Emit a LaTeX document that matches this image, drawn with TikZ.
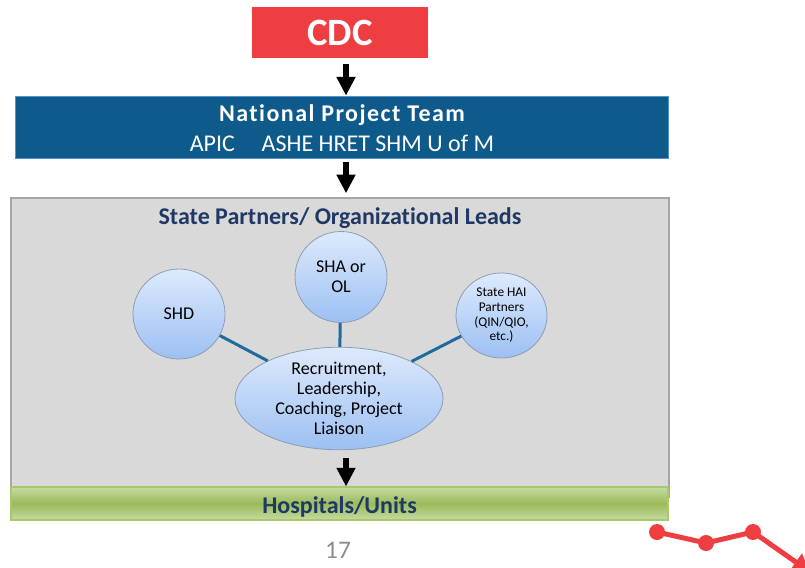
\documentclass[tikz,border=0pt]{standalone}
\usepackage{fontspec}
\setmainfont[Ligatures=NoCommon]{Carlito}
\usetikzlibrary{arrows.meta,shapes.geometric}
\definecolor{cdcred}{HTML}{EF3E42}
\definecolor{nptblue}{HTML}{0E5A8A}
\definecolor{nptedge}{HTML}{4F94CD}
\definecolor{panelgray}{HTML}{D9D9D9}
\definecolor{paneledge}{HTML}{A6A6A6}
\definecolor{navy}{HTML}{1F3864}
\definecolor{linkblue}{HTML}{1F6AA0}
\definecolor{bubtop}{HTML}{DDEAFC}
\definecolor{bubbot}{HTML}{9CC0F3}
\definecolor{bubedge}{HTML}{8E9DB4}
\definecolor{grnmid}{HTML}{9BBB59}
\definecolor{grnlt}{HTML}{C6DAA2}
\definecolor{grnedge}{HTML}{A9C76F}
\definecolor{pagegray}{HTML}{8C8C8C}
\begin{document}
\begin{tikzpicture}[x=0.75pt,y=-0.75pt,
  bigarrow/.style={line width=4.5pt,-{Triangle[width=13.5pt,length=14pt]}},
  bubble/.style={ellipse,draw=bubedge,line width=0.6pt,top color=bubtop,bottom color=bubbot,
    inner sep=0pt,align=center,font=\fontsize{13.5}{15}\selectfont},
  link/.style={draw=linkblue,line width=2.25pt},
  boxtext/.style={inner sep=0pt,font=\bfseries\fontsize{18}{21}\selectfont},
  reddot/.style={circle,fill=cdcred,minimum size=12pt,inner sep=0pt},
  redline/.style={draw=cdcred,line width=3.75pt,-{Triangle[width=15pt,length=13pt]}}]
\useasboundingbox (0,0) rectangle (805,567);
\coordinate (ax) at (346,0);
% CDC
\node[fill=cdcred,minimum width=132pt,minimum height=38.25pt,inner sep=0pt,
  text=white,font=\bfseries\fontsize{29}{32}\selectfont] (cdc) at (340,32.5) {CDC};
% National Project Team
\node[fill=nptblue,draw=nptedge,line width=0.6pt,minimum width=489.75pt,minimum height=46.5pt,inner sep=0pt] (npt) at (341.5,127) {};
\node[boxtext,text=white] (nptt) at (342,115) {\addfontfeatures{LetterSpace=6}National Project Team};
\node[inner sep=0pt,text=white,font=\fontsize{18}{21}\selectfont] (nptm) at (342,143) {APIC\hspace{20pt}ASHE HRET SHM U of M};
% State panel
\node[fill=panelgray,draw=paneledge,line width=1.1pt,minimum width=493.5pt,minimum height=224.25pt,inner sep=0pt] (panel) at (340,347.5) {};
\node[boxtext,text=navy] (panelt) at (340,218) {State Partners/ Organizational Leads};
% bubbles
\node[bubble,minimum width=69pt,minimum height=67.5pt] (shd) at (179,314) {SHD};
\node[bubble,minimum width=69pt,minimum height=68.25pt] (sha) at (341,277) {SHA or\\OL};
\node[bubble,minimum width=68.25pt,minimum height=63.75pt,font=\fontsize{10}{11}\selectfont] (hai) at (501.5,315.5) {State HAI\\Partners\\(QIN/QIO,\\etc.)};
\node[bubble,minimum width=156pt,minimum height=69.75pt] (rec) at (339,398.5) {Recruitment,\\Leadership,\\Coaching, Project\\Liaison};
\draw[link] (shd) -- (rec);
\draw[link] (sha) -- (rec);
\draw[link] (hai) -- (rec);
% Hospitals bar
\node[draw=grnedge,line width=0.8pt,top color=grnlt,bottom color=grnlt,middle color=grnmid,
  minimum width=492.75pt,minimum height=24.75pt,inner sep=0pt] (hosp) at (339.5,503.5) {};
\node[inner sep=0pt,text=navy,font=\bfseries\fontsize{18}{21}\selectfont] (hospt) at (339.5,507) {Hospitals/Units};
% arrows
\draw[bigarrow] ([yshift=-4.5pt]cdc.south -| ax) -- (npt.north -| ax);
\draw[bigarrow] ([yshift=-3pt]npt.south -| ax) -- ([yshift=3pt]panel.north -| ax);
\draw[bigarrow] ([yshift=-6pt]rec.south -| ax) -- (hosp.north -| ax);
% page number
\node[text=pagegray,font=\fontsize{19}{22}\selectfont,inner sep=0pt] (pg) at (338,550) {17};
% red decoration
\node[reddot] (d1) at (657,532) {};
\node[reddot] (d2) at (706,543) {};
\node[reddot] (d3) at (753,532) {};
\coordinate (d4) at (810,572);
\draw[redline] (d1.center) -- (d2.center) -- (d3.center) -- (d4);
\end{tikzpicture}
\end{document}
